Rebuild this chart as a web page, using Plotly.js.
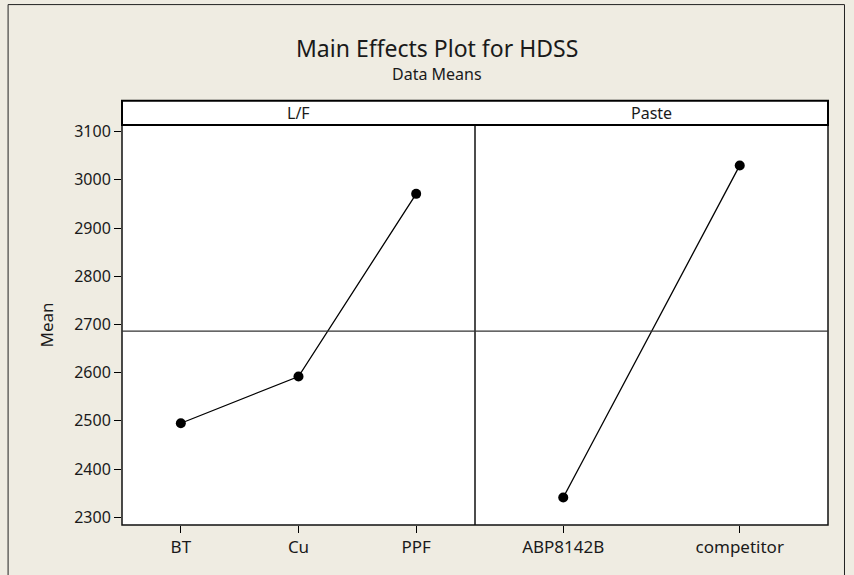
<!DOCTYPE html>
<html>
<head>
<meta charset="utf-8">
<script src="https://cdn.plot.ly/plotly-3.0.1.min.js"></script>
<style>html,body{margin:0;padding:0;background:#EFECE2;}#chart{width:854px;height:575px;}</style>
</head>
<body>
<div id="chart"></div>
<script>
// Data
const lfLevels = ["BT", "Cu", "PPF"];
const lfMeans = [2495, 2592, 2971];
const pasteLevels = ["ABP8142B", "competitor"];
const pasteMeans = [2341, 3030];
const grandMean = 2686;
const panelNames = ["L/F", "Paste"];
const yTicks = [2300, 2400, 2500, 2600, 2700, 2800, 2900, 3000, 3100];

const FONT = "Noto Sans, Open Sans, Liberation Sans, sans-serif";
const TXT = "#1a1a1a";

// geometry (pixels)
const W = 854, H = 575;
const L = 122, R = 828.5, T = 125, B = 525.3;
const pw = R - L, ph = B - T;
const px = v => (v - L) / pw;
const py = v => (B - v) / ph;

const traceStyle = {
  mode: "lines+markers",
  line: {color: "#000", width: 1.3},
  marker: {color: "#000", size: 10},
  hoverinfo: "x+y",
  showlegend: false
};

const traces = [
  Object.assign({x: lfLevels.map((_, i) => i), y: lfMeans, xaxis: "x", yaxis: "y"}, traceStyle),
  Object.assign({x: pasteLevels.map((_, i) => i), y: pasteMeans, xaxis: "x2", yaxis: "y2"}, traceStyle)
];

const yRange = [2283.8, 3113.9];
const axCommon = {
  showgrid: false, zeroline: false, showline: false,
  ticks: "outside", ticklen: 7, tickcolor: "#000", tickwidth: 1,
  tickfont: {family: FONT, size: 17, color: TXT}
};

const layout = {
  width: W, height: H,
  paper_bgcolor: "#EFECE2",
  plot_bgcolor: "#FFFFFF",
  margin: {l: L, r: W - R, t: T, b: H - B, pad: 0},
  xaxis: Object.assign({}, axCommon, {
    domain: [0, 0.5], range: [-0.5, lfLevels.length - 0.5],
    tickvals: lfLevels.map((_, i) => i), ticktext: lfLevels, anchor: "y"
  }),
  xaxis2: Object.assign({}, axCommon, {
    domain: [0.5, 1], range: [-0.5, pasteLevels.length - 0.5],
    tickvals: pasteLevels.map((_, i) => i), ticktext: pasteLevels, anchor: "y2"
  }),
  yaxis: Object.assign({}, axCommon, {
    range: yRange, tickvals: yTicks, ticktext: yTicks.map(String),
    tickfont: {family: FONT, size: 16, color: TXT},
    title: {text: "Mean", font: {family: FONT, size: 17, color: TXT}, standoff: 16},
    anchor: "x"
  }),
  yaxis2: Object.assign({}, axCommon, {
    range: yRange, showticklabels: false, ticks: "", anchor: "x2", matches: "y"
  }),
  shapes: [
    // outer border
    {type: "rect", xref: "paper", yref: "paper", x0: px(8), x1: px(845), y0: py(590), y1: py(4.5),
     line: {color: "#222", width: 1}, layer: "below"},
    // plot box
    {type: "rect", xref: "paper", yref: "paper", x0: 0, x1: 1, y0: 0, y1: 1,
     line: {color: "#111", width: 1.5}},
    // divider
    {type: "line", xref: "paper", yref: "paper", x0: 0.5, x1: 0.5, y0: 0, y1: py(100.7),
     line: {color: "#111", width: 1.5}},
    // header strip
    {type: "rect", xref: "paper", yref: "paper", x0: 0, x1: 1, y0: 1, y1: py(100.7),
     fillcolor: "#FFFFFF", line: {color: "#000", width: 2}},
    // reference line (grand mean)
    {type: "line", xref: "x", yref: "y", x0: -0.5, x1: lfLevels.length - 0.5, y0: grandMean, y1: grandMean,
     line: {color: "#333", width: 1.2}},
    {type: "line", xref: "x2", yref: "y2", x0: -0.5, x1: pasteLevels.length - 0.5, y0: grandMean, y1: grandMean,
     line: {color: "#333", width: 1.2}}
  ],
  annotations: [
    {text: "Main Effects Plot for HDSS", xref: "paper", yref: "paper", x: px(437), y: py(48),
     xanchor: "center", yanchor: "middle", showarrow: false, font: {family: FONT, size: 23, color: TXT}},
    {text: "Data Means", xref: "paper", yref: "paper", x: px(437), y: py(74),
     xanchor: "center", yanchor: "middle", showarrow: false, font: {family: FONT, size: 16, color: TXT}},
    {text: panelNames[0], xref: "paper", yref: "paper", x: 0.25, y: py(113),
     xanchor: "center", yanchor: "middle", showarrow: false, font: {family: FONT, size: 16, color: TXT}},
    {text: panelNames[1], xref: "paper", yref: "paper", x: 0.75, y: py(113),
     xanchor: "center", yanchor: "middle", showarrow: false, font: {family: FONT, size: 16, color: TXT}}
  ]
};

Plotly.newPlot("chart", traces, layout, {displayModeBar: false, staticPlot: true});
</script>
</body>
</html>
